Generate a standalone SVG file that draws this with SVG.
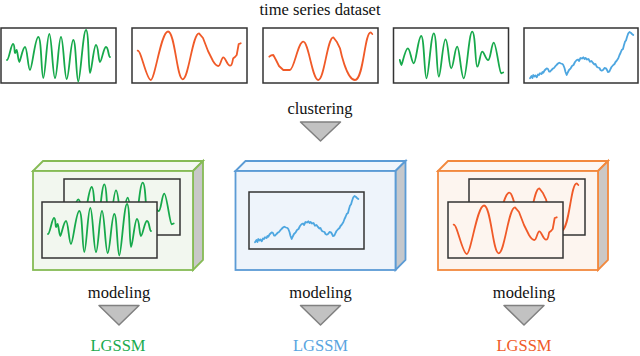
<svg xmlns="http://www.w3.org/2000/svg" xmlns:xlink="http://www.w3.org/1999/xlink" width="640" height="356" viewBox="0 0 640 356">
<style>
text{font-size:16.5px;fill:#111;text-anchor:middle}
.frame{fill:#fff;stroke:#333;stroke-width:1.5}
.cv{fill:none;stroke-width:1.8;stroke-linejoin:round;stroke-linecap:round}
.g{stroke:#17a94b}.o{stroke:#f05a28}.b{stroke:#4da6e0}
.tri{fill:#c2c2c2;stroke:#808080;stroke-width:1.5;stroke-linejoin:round}
.side{fill:#c8c8c8}
</style>
<defs>
<path id="cA" d="M6,32 C8,32 10,16 12,16 S13.2,25 14,25 S15,22 15.7,22 S17.3,34 18.3,34 S21.7,19 24,19 S27,42 29,42 S34,9 37.3,9 S40.3,50 42.3,50 S45.9,6 48.3,6 S51.7,50 54,50 S57.6,9 60,9 S63.4,51 65.7,51 S69.6,12 72.3,12 S75.3,53.5 77.3,53.5 S82,2 85,2 S87.4,45 89,45 S92.6,17 95,17 S97.4,34 99,34 S102.6,19 105,19 S107.4,29 109,29"/>
<path id="cB" d="M5.7,22.7 C9,22 14.5,52 18.7,52 S29,3.5 36,3.5 S44.8,51.3 50.7,51.3 S60.5,5.3 67,5.3 L71,10 L76,23 L81,33 S84,38 86.3,38 S89.3,29.3 91.3,29.3 S95.3,37.7 98,37.7 S100.5,31 101.3,30.3 L103,29 L104.7,27 L106.7,16 L108.7,15.3"/>
<path id="cC" d="M6.3,28.7 C7.5,27.5 9,27 10.3,27 L13,32 L16,38 L20.3,42 L27,42 C31,42 35,13.7 40.3,13.7 S49.3,52 55.3,52 S64.3,9.3 70.3,9.3 L73.7,13.7 L77,20.3 S83.3,52 92,52 S101.4,4.3 107.7,4.3 L109.3,6"/>
<path id="cD" d="M6.3,32 C7,35 7.5,37 8,37 S11.8,20.3 14.3,20.3 S18,35.3 20.3,35.3 S24.7,8 27.7,8 S30.9,50.3 33,50.3 S37.4,5.3 40.3,5.3 S43.3,48.7 45.3,48.7 S49.3,11.3 52,11.3 S55.4,40.3 57.7,40.3 S61.3,18.7 63.7,18.7 S67.6,50.3 70.3,50.3 S75.4,3.7 78.7,3.7 S81.7,38.7 83.7,38.7 S86.7,23.7 88.7,23.7 S92.3,32 94.7,32 S98,14.7 100.3,14.7 S106,45.3 107.5,45.3 L109.7,44.5"/>
<path id="cE" d="M6,50.3 L7.5,48 L8.5,50 L9.3,47 L10.5,48.5 L11.5,47.5 L12.7,49.3 L14,46.5 L15,47 L16,45.3 L17.5,46 L18.5,44 L19.3,44.7 L20.5,42.5 L21.5,41.5 L22.7,40.3 L24,41 L25,43.5 L26,43.7 L27.5,42 L29,40.5 L30,40 L31,38.7 L32.5,37 L34,35.5 L35.3,34.7 L37,35.5 L38.5,36 L39.3,37 L40.5,40 L41.5,44 L42.7,47 L43.5,45 L45,42 L46.7,40.3 L48,38 L49.5,37 L51,34 L52.7,32 L54,31.5 L55,33 L56.5,30 L58,30.5 L59.3,29.3 L60.5,31 L61.5,30 L63,31.5 L64.5,31 L66,33.7 L67.5,33 L69,35 L70.5,36.5 L71.5,36 L72.7,38.7 L74,39.5 L75.5,40 L76.5,42 L77.7,42.7 L79,42 L80.5,40 L82,40.3 L83,42 L84,44 L85.3,43.7 L86.5,41 L87.5,39 L89.3,37 L90.5,36 L91.5,34 L92.5,33 L94.3,30.3 L95.5,27 L96.5,25 L97.7,22 L99,21 L100,17 L101,13.7 L102,12.5 L103,9 L104.3,5.3 L105.5,4 L106.7,4.7 L108,6 L109.3,7"/>
</defs>

<g id="title"><text x="320" y="15" font-family="'Liberation Serif','Times New Roman','DejaVu Serif',serif">time series dataset</text></g>

<g id="series1"><rect class="frame" x="1" y="28" width="115" height="55"/><use xlink:href="#cA" href="#cA" class="cv g" transform="translate(1,28)"/></g>
<g id="series2"><rect class="frame" x="132" y="28" width="115" height="55"/><use xlink:href="#cB" href="#cB" class="cv o" transform="translate(132,28)"/></g>
<g id="series3"><rect class="frame" x="263" y="28" width="115" height="55"/><use xlink:href="#cC" href="#cC" class="cv o" transform="translate(263,28)"/></g>
<g id="series4"><rect class="frame" x="393.5" y="28" width="115" height="55"/><use xlink:href="#cD" href="#cD" class="cv g" transform="translate(393.5,28)"/></g>
<g id="series5"><rect class="frame" x="524" y="28" width="114" height="55"/><use xlink:href="#cE" href="#cE" class="cv b" transform="translate(524,28)"/></g>

<g id="cluster-green">
<polygon points="33,171 43,161 203,161 193,171" fill="#f4f9f1" stroke="#86bb55" stroke-width="1.8"/>
<polygon class="side" points="193,171 203,161 203,260 193,270" stroke="#86bb55" stroke-width="1.8"/>
<rect x="33" y="171" width="160" height="99" fill="#f2f7ef" stroke="#86bb55" stroke-width="1.8"/>
<rect class="frame" x="64" y="179" width="116" height="56" style="fill:#f2f7ef"/>
<use xlink:href="#cD" href="#cD" class="cv g" transform="translate(64,179)"/>
<rect class="frame" x="42" y="202" width="115" height="56" style="fill:#f2f7ef"/>
<use xlink:href="#cA" href="#cA" class="cv g" transform="translate(42,202)"/>
</g>

<g id="cluster-blue">
<polygon points="235.5,171 245.5,161 405.5,161 395.5,171" fill="#f1f6fc" stroke="#5b9bd5" stroke-width="1.8"/>
<polygon points="395.5,171 405.5,161 405.5,260 395.5,270" fill="#c5c8cc" stroke="#5b9bd5" stroke-width="1.8"/>
<rect x="235.5" y="171" width="160" height="99" fill="#eef4fb" stroke="#5b9bd5" stroke-width="1.8"/>
<rect class="frame" x="249" y="192" width="115" height="57" style="fill:#eef4fb"/>
<use xlink:href="#cE" href="#cE" class="cv b" transform="translate(249,192)"/>
</g>

<g id="cluster-orange">
<polygon points="438,171 448,161 608,161 598,171" fill="#fdf7f2" stroke="#f2893e" stroke-width="1.8"/>
<polygon points="598,171 608,161 608,260 598,270" fill="#cbc8c6" stroke="#f2893e" stroke-width="1.8"/>
<rect x="438" y="171" width="160" height="99" fill="#fdf5ef" stroke="#f2893e" stroke-width="1.8"/>
<rect class="frame" x="469" y="179" width="116" height="56" style="fill:#fdf5ef"/>
<use xlink:href="#cC" href="#cC" class="cv o" transform="translate(469,179)"/>
<rect class="frame" x="448" y="202" width="115" height="56" style="fill:#fdf5ef"/>
<use xlink:href="#cB" href="#cB" class="cv o" transform="translate(448,202)"/>
</g>

<g id="connectors" font-family="'Liberation Serif','Times New Roman','DejaVu Serif',serif">
<text x="320" y="114">clustering</text>
<polygon class="tri" points="300.5,122 340.5,122 320.5,141"/>
<text x="119" y="298">modeling</text>
<polygon class="tri" points="99,305.5 139,305.5 119,325"/>
<text x="320.5" y="298">modeling</text>
<polygon class="tri" points="300.5,305.5 340.5,305.5 320.5,325"/>
<text x="524" y="298">modeling</text>
<polygon class="tri" points="504,305.5 544,305.5 524,325"/>
</g>

<g id="models" font-family="'Liberation Serif','Times New Roman','DejaVu Serif',serif">
<g id="model-green"><text x="118" y="351" style="fill:#1aaa4e">LGSSM</text></g>
<g id="model-blue"><text x="320.5" y="351" style="fill:#5aa5df">LGSSM</text></g>
<g id="model-orange"><text x="524" y="351" style="fill:#f05a28">LGSSM</text></g>
</g>
</svg>
